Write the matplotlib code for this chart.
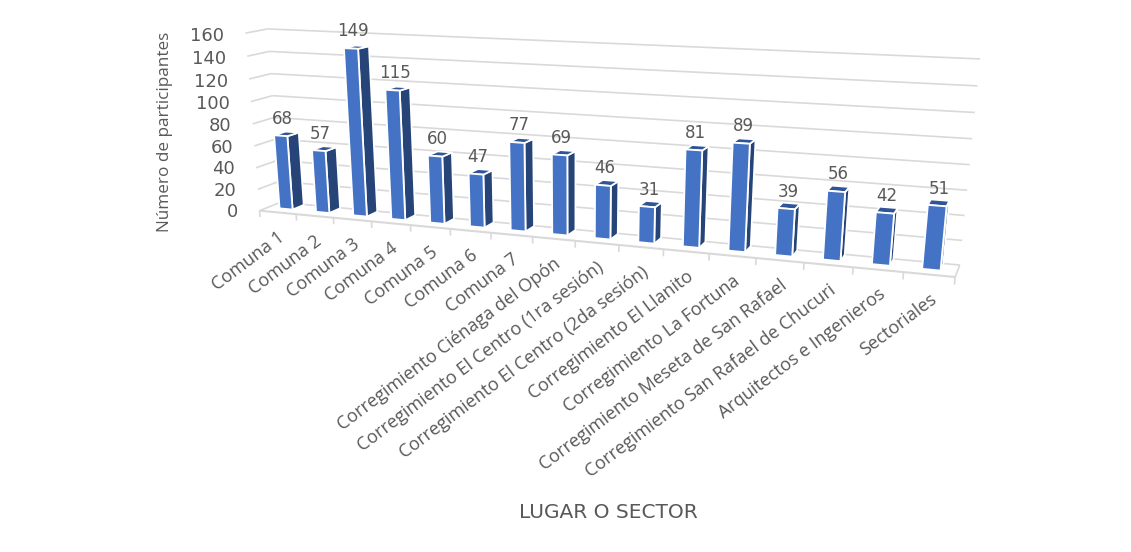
import numpy as np
import matplotlib
matplotlib.use("Agg")
import matplotlib.pyplot as plt

categories = ["Comuna 1", "Comuna 2", "Comuna 3", "Comuna 4", "Comuna 5", "Comuna 6", "Comuna 7",
              "Corregimiento Ciénaga del Opón", "Corregimiento El Centro (1ra sesión)",
              "Corregimiento El Centro (2da sesión)", "Corregimiento El Llanito",
              "Corregimiento La Fortuna", "Corregimiento Meseta de San Rafael",
              "Corregimiento San Rafael de Chucuri", "Arquitectos e Ingenieros", "Sectoriales"]
values = [68, 57, 149, 115, 60, 47, 77, 69, 46, 31, 81, 89, 39, 56, 42, 51]
y_ticks = [0, 20, 40, 60, 80, 100, 120, 140, 160]

FRONT = "#4472C4"
SIDE = "#264478"
TOP = "#2F5597"
GRID = "#D9D9D9"
TEXT = "#595959"

# chart box corners (category, depth, value) and where they land in the picture
box_corners = [(0, 0, 0), (16, 0, 0), (0, 1, 0), (16, 1, 0), (0, 0, 160), (0, 1, 160), (16, 1, 160)]
box_pixels = [(262, 210), (955, 278), (278, 203), (960, 264), (243, 33), (270, 29), (980, 59)]


def fit_camera(corners, pixels):
    rows, rhs = [], []
    for (x, z, y), (u, v) in zip(corners, pixels):
        rows.append([x, z, y, 1, 0, 0, 0, 0, -u * x, -u * z, -u * y])
        rows.append([0, 0, 0, 0, x, z, y, 1, -v * x, -v * z, -v * y])
        rhs += [u, v]
    p = np.linalg.lstsq(np.array(rows, float), np.array(rhs, float), rcond=None)[0]
    return np.append(p, 1.0).reshape(3, 4)


CAM = fit_camera(box_corners, box_pixels)


def project(x, z, y):
    h = CAM @ np.array([x, z, y, 1.0])
    return h[0] / h[2], h[1] / h[2]


def face(ax, pts, color, zorder):
    xy = [project(*p) for p in pts]
    ax.fill([q[0] for q in xy], [q[1] for q in xy], facecolor=color, edgecolor="white",
            linewidth=1.3, zorder=zorder, joinstyle="round")


def line3(ax, a, b, color=GRID, lw=1.2, zorder=1):
    pa, pb = project(*a), project(*b)
    ax.plot([pa[0], pb[0]], [pa[1], pb[1]], color=color, lw=lw, zorder=zorder, solid_capstyle="butt")


def main():
    plt.rcParams["font.family"] = ["Open Sans", "DejaVu Sans"]
    fig = plt.figure(figsize=(11.31, 5.52), dpi=100)
    ax = fig.add_axes([0, 0, 1, 1])
    ax.set_xlim(0, 1131)
    ax.set_ylim(552, 0)
    ax.axis("off")

    n = len(categories)
    for v in y_ticks:
        line3(ax, (0, 0, v), (0, 1, v))
        line3(ax, (0, 1, v), (n, 1, v))
        px, py = project(0, 0, v)
        ax.text(px - 21, py + 1 + v / 80, str(v), ha="right", va="center", fontsize=13, color=TEXT,
                family="DejaVu Sans", zorder=6)

    line3(ax, (0, 0, 0), (n, 0, 0), lw=1.5)
    line3(ax, (n, 0, 0), (n, 1, 0))
    for i in range(n + 1):
        line3(ax, (i, 0, 0), (i, 0, -6))

    w = 0.18
    z0, z1 = 0.4, 0.95
    for i, val in enumerate(values):
        c = i + 0.5
        l, r = c - w, c + w
        face(ax, [(r, z0, 0), (r, z1, 0), (r, z1, val), (r, z0, val)], SIDE, 3)
        face(ax, [(l, z0, val), (r, z0, val), (r, z1, val), (l, z1, val)], TOP, 3)
        face(ax, [(l, z0, 0), (r, z0, 0), (r, z0, val), (l, z0, val)], FRONT, 4)

        tx, ty = project(c, z0, val)
        ax.text(tx + 2, ty - 17, str(val), ha="center", va="center", fontsize=12, color=TEXT,
                family="DejaVu Sans", zorder=6)

        ex, ey = project(c, 0, 0)
        ax.text(ex + 5, ey + 23, categories[i], ha="right", va="center", rotation=37,
                rotation_mode="anchor", fontsize=13, color=TEXT, zorder=6)

    ax.text(165, 132, "Número de participantes", rotation=90, ha="center", va="center",
            fontsize=12.3, color=TEXT)
    ax.text(608, 512, "LUGAR O SECTOR", ha="center", va="center", fontsize=14.5, color=TEXT,
            family="DejaVu Sans")

    fig.savefig("out.png", dpi=100, facecolor="white")
    plt.close(fig)


if __name__ == "__main__":
    main()
